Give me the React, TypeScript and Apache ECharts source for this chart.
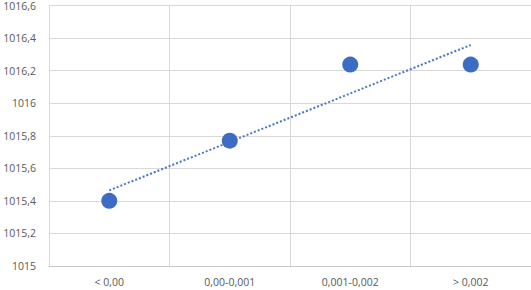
import React, { useEffect, useRef } from "react";
import * as echarts from "echarts";

const categories = ["< 0,00", "0,00-0,001", "0,001-0,002", "> 0,002"];
const values = [1015.4, 1015.77, 1016.237, 1016.237];
const yMin = 1015;
const yMax = 1016.6;
const yStep = 0.2;

function linearTrend(ys: number[]): number[] {
  const n = ys.length;
  const xs = ys.map((_, i) => i + 1);
  const mx = xs.reduce((a, b) => a + b, 0) / n;
  const my = ys.reduce((a, b) => a + b, 0) / n;
  let num = 0;
  let den = 0;
  for (let i = 0; i < n; i++) {
    num += (xs[i] - mx) * (ys[i] - my);
    den += (xs[i] - mx) * (xs[i] - mx);
  }
  const slope = num / den;
  return xs.map((x) => my + slope * (x - mx));
}

const fmt = (v: number) => {
  const r = Math.round(v * 10) / 10;
  return Number.isInteger(r) ? String(r) : r.toFixed(1).replace(".", ",");
};

export default function App() {
  const ref = useRef<HTMLDivElement>(null);
  useEffect(() => {
    if (!ref.current) return;
    const chart = echarts.init(ref.current, undefined, { renderer: "svg" });
    const font = "Open Sans";
    chart.setOption({
      animation: false,
      grid: { left: 49, right: 0, top: 4, bottom: 24, containLabel: false },
      xAxis: {
        type: "category",
        data: categories,
        boundaryGap: true,
        axisLine: { show: true, lineStyle: { color: "#c8c8c8", width: 1 } },
        axisTick: { show: false },
        splitLine: { show: true, lineStyle: { color: "#d9d9d9", width: 1 } },
        axisLabel: { color: "#595959", fontSize: 10.5, fontFamily: font, margin: 10, interval: 0 },
      },
      yAxis: {
        type: "value",
        min: yMin,
        max: yMax,
        interval: yStep,
        axisLine: { show: false },
        axisTick: { show: false },
        splitLine: { show: true, lineStyle: { color: "#d9d9d9", width: 1 } },
        axisLabel: {
          color: "#595959",
          fontSize: 10.5,
          fontFamily: font,
          margin: 13,
          formatter: (v: number) => fmt(v),
        },
      },
      series: [
        {
          type: "line",
          data: linearTrend(values),
          symbol: "none",
          lineStyle: { color: "#4a76c6", width: 2, type: [2, 2] },
          z: 2,
        },
        {
          type: "scatter",
          data: values,
          symbolSize: 16,
          itemStyle: { color: "#3d6cc4", opacity: 1 },
          z: 3,
        },
      ],
    });
    return () => chart.dispose();
  }, []);
  return <div ref={ref} style={{ width: 531, height: 290, position: "absolute", left: 0, top: 0 }} />;
}
